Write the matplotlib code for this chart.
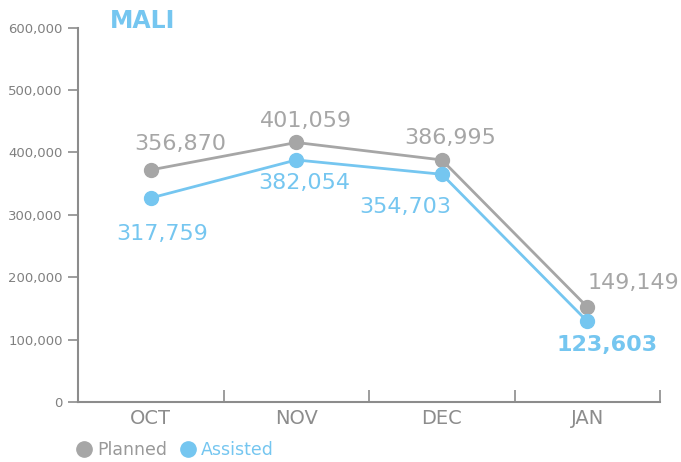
import matplotlib
matplotlib.use("Agg")
import matplotlib.pyplot as plt
import numpy as np
from matplotlib.lines import Line2D

months = ['OCT', 'NOV', 'DEC', 'JAN']
# values as drawn on the chart
planned = [372000, 416000, 388000, 152000]
assisted = [327000, 388000, 365000, 129000]
# data labels printed next to the points
planned_labels = ['356,870', '401,059', '386,995', '149,149']
assisted_labels = ['317,759', '382,054', '354,703', '123,603']

GREY = '#a6a6a6'
BLUE = '#75c6f0'
AXIS = '#8c8c8c'

fig = plt.figure(figsize=(6.81, 4.62), dpi=100)
ax = fig.add_axes([0.1145, 0.13, 0.855, 0.81])

xpos = np.arange(len(months))
ax.plot(xpos, planned, color=GREY, lw=2, marker='o', ms=10, zorder=3)
ax.plot(xpos, assisted, color=BLUE, lw=2, marker='o', ms=10, zorder=4)

# label offsets in pixels (dx, dy)
p_off = [(29, 26), (10, 21), (8, 22), (46, 24)]
a_off = [(11, -36), (8, -23), (-37, -33), (20, -24)]
for i in range(len(months)):
    ax.annotate(planned_labels[i], (xpos[i], planned[i]), xytext=p_off[i],
                textcoords='offset pixels', ha='center', va='center',
                fontsize=16, color=GREY)
    bold = 'bold' if i == len(months) - 1 else 'normal'
    ax.annotate(assisted_labels[i], (xpos[i], assisted[i]), xytext=a_off[i],
                textcoords='offset pixels', ha='center', va='center',
                fontsize=16, color=BLUE, fontweight=bold)

ax.set_xlim(-0.5, 3.5)
ax.set_ylim(0, 600000)
ax.set_yticks(np.arange(0, 600001, 100000))
ax.set_yticklabels(['0' if v == 0 else f'{v:,}' for v in range(0, 600001, 100000)])

ax.set_xticks(xpos + 0.5)
ax.set_xticklabels([])
ax.set_xticks(xpos, minor=True)
ax.set_xticklabels(months, minor=True)
ax.tick_params(axis='x', which='major', direction='in', length=9, color=AXIS, width=1.2)
ax.tick_params(axis='x', which='minor', length=0, labelsize=14, labelcolor='#8c8c8c', pad=5)
ax.tick_params(axis='y', direction='out', length=7, color=AXIS, width=1.2,
               labelsize=9.5, labelcolor='#808080', pad=4)

for s in ['top', 'right']:
    ax.spines[s].set_visible(False)
for s in ['left', 'bottom']:
    ax.spines[s].set_color(AXIS)
    ax.spines[s].set_linewidth(1.5)

fig.text(110 / 681, 1 - 21 / 462, 'MALI', color=BLUE, fontsize=17,
         fontweight='bold', va='center', ha='left')

handles = [Line2D([], [], color=GREY, marker='o', ls='', ms=11),
           Line2D([], [], color=BLUE, marker='o', ls='', ms=11)]
leg = fig.legend(handles, ['Planned', 'Assisted'], loc='center left',
                 bbox_to_anchor=(79 / 681, 1 - 450 / 462), ncol=2, frameon=False,
                 fontsize=12.5, handlelength=0.6, handletextpad=0.45, columnspacing=0.9,
                 borderaxespad=0, borderpad=0)
for t, c in zip(leg.get_texts(), ['#999999', BLUE]):
    t.set_color(c)

fig.savefig('out.png', dpi=100)
